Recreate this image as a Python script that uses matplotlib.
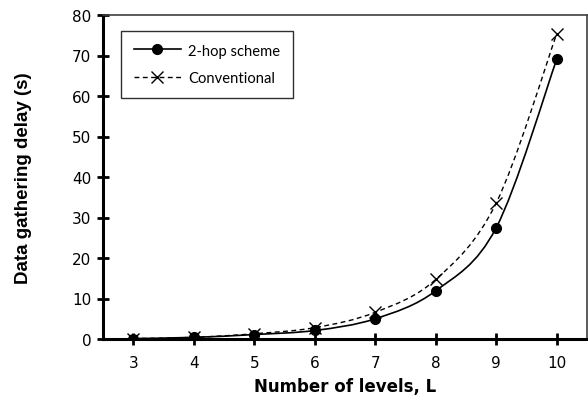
import matplotlib
matplotlib.use("Agg")
import matplotlib.pyplot as plt
from matplotlib.path import Path
from matplotlib.patches import PathPatch
from matplotlib.lines import Line2D
import numpy as np

levels = [3, 4, 5, 6, 7, 8, 9, 10]
two_hop = [0.1, 0.4, 1.1, 2.1, 5.0, 11.9, 27.5, 69.1]
conventional = [0.1, 0.4, 1.3, 2.8, 6.6, 14.7, 33.6, 75.4]
y_ticks = [0, 10, 20, 30, 40, 50, 60, 70, 80]

plt.rcParams['font.family'] = ['Liberation Sans', 'DejaVu Sans']

fig = plt.figure(figsize=(5.88, 4.06), dpi=100)
ax = fig.add_axes([103/588, 1-340/406, 484/588, 324/406])


def smooth_path(xs, ys):
    xs = np.asarray(xs, float); ys = np.asarray(ys, float)
    verts = [(xs[0], ys[0])]
    codes = [Path.MOVETO]
    n = len(xs)
    for i in range(n - 1):
        p0 = (xs[max(i-1, 0)], ys[max(i-1, 0)])
        p1 = (xs[i], ys[i]); p2 = (xs[i+1], ys[i+1])
        p3 = (xs[min(i+2, n-1)], ys[min(i+2, n-1)])
        c1 = (p1[0] + (p2[0]-p0[0])/6, p1[1] + (p2[1]-p0[1])/6)
        c2 = (p2[0] - (p3[0]-p1[0])/6, p2[1] - (p3[1]-p1[1])/6)
        verts += [c1, c2, p2]
        codes += [Path.CURVE4]*3
    return Path(verts, codes)

ax.add_patch(PathPatch(smooth_path(levels, conventional), fill=False,
                       edgecolor='black', lw=1.0, linestyle=(0, (3.5, 2.5)), zorder=2))
ax.add_patch(PathPatch(smooth_path(levels, two_hop), fill=False,
                       edgecolor='black', lw=1.2, zorder=2))
ax.plot(levels, conventional, linestyle='none', marker='x', ms=8.5, mew=1.0,
        color='black', zorder=3)
ax.plot(levels, two_hop, linestyle='none', marker='o', ms=7,
        color='black', zorder=4)

ax.set_xlim(2.5, 10.5)
ax.set_ylim(0, 80)
ax.set_xticks(levels)
ax.set_yticks(y_ticks)
ax.tick_params(axis='both', direction='inout', length=9, width=2,
               labelsize=11, colors='black', pad=4)
ax.tick_params(axis='x', pad=7)
for lab in ax.get_xticklabels() + ax.get_yticklabels():
    lab.set_family(['DejaVu Sans'])
for s in ['left', 'bottom']:
    ax.spines[s].set_linewidth(2.2)
    ax.spines[s].set_color('black')
for s in ['top', 'right']:
    ax.spines[s].set_linewidth(1.2)
    ax.spines[s].set_color('#404040')

ax.set_xlabel('Number of levels, L', fontsize=12, fontweight='bold', labelpad=5,
              family=['DejaVu Sans'])
ax.set_ylabel('Data gathering delay (s)', fontsize=13.5, fontweight='bold', labelpad=29)

handles = [
    Line2D([], [], color='black', lw=1.2, marker='o', ms=7),
    Line2D([], [], color='black', lw=1.0, linestyle=(0, (3.5, 2.5)), marker='x', ms=8.5, mew=1.0),
]
leg = ax.legend(handles, ['2-hop scheme', 'Conventional'], loc='upper left',
                bbox_to_anchor=(18/484, 1-16/324), fancybox=False, framealpha=1,
                edgecolor='#303030', prop={'family': ['Lato', 'DejaVu Sans'], 'size': 10.6},
                handlelength=3.2, borderpad=0.85, labelspacing=0.95, handletextpad=0.5,
                borderaxespad=0)
leg.get_frame().set_linewidth(1.0)

fig.savefig('out.png', dpi=100)
